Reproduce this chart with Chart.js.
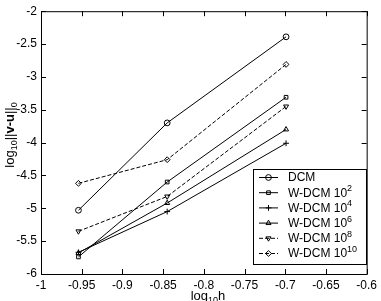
<!DOCTYPE html>
<html>
<head>
<meta charset="utf-8">
<script src="https://cdn.jsdelivr.net/npm/chart.js@4.4.0/dist/chart.umd.min.js"></script>
<style>
  html, body { margin: 0; padding: 0; background: #fff; }
  #wrap { width: 381px; height: 301px; }
</style>
</head>
<body>
<div id="wrap"><canvas id="errChart"></canvas></div>
<script>
  // log10 of the mesh size h = 1/9, 1/7, 1/5
  const logH = [-0.954, -0.845, -0.699];

  const dcm = [-5.03, -3.70, -2.39];
  const wdcm2 = [-5.74, -4.60, -3.31];
  const wdcm4 = [-5.67, -5.05, -4.01];
  const wdcm6 = [-5.68, -4.92, -3.80];
  const wdcm8 = [-5.35, -4.82, -3.45];
  const wdcm10 = [-4.62, -4.26, -2.81];

  const seriesNames = ['DCM', 'W-DCM 10', 'W-DCM 10', 'W-DCM 10', 'W-DCM 10', 'W-DCM 10'];
  const seriesPowers = ['', '2', '4', '6', '8', '10'];

  const xTicks = [-1, -0.95, -0.9, -0.85, -0.8, -0.75, -0.7, -0.65, -0.6];
  const yTicks = [-6, -5.5, -5, -4.5, -4, -3.5, -3, -2.5, -2];

  const FONT = 'Liberation Sans, Arial, sans-serif';

  const styles = [
    { point: 'circle', rot: 0, dash: [] },
    { point: 'rect', rot: 0, dash: [] },
    { point: 'cross', rot: 0, dash: [] },
    { point: 'triangle', rot: 0, dash: [] },
    { point: 'triangle', rot: 180, dash: [4, 2] },
    { point: 'rectRot', rot: 0, dash: [4, 2] },
  ];

  function mkSet(i, values) {
    const s = styles[i];
    return {
      label: seriesNames[i] + seriesPowers[i],
      data: values.map(function (v, k) { return { x: logH[k], y: v }; }),
      borderColor: '#000',
      borderWidth: 1,
      borderDash: s.dash,
      backgroundColor: 'rgba(0,0,0,0)',
      pointStyle: s.point,
      rotation: s.rot,
      pointRadius: s.point === 'rect' ? 2.6 : 2.9,
      pointBorderColor: '#000',
      pointBorderWidth: 1,
      pointBackgroundColor: 'rgba(0,0,0,0)',
      tension: 0,
    };
  }

  function drawMarker(ctx, style, rot, x, y, r) {
    ctx.save();
    ctx.setLineDash([]);
    ctx.fillStyle = 'rgba(0,0,0,0)';
    ctx.strokeStyle = '#000';
    Chart.helpers.drawPoint(ctx, { pointStyle: style, rotation: rot, radius: r, borderWidth: 1 }, x, y);
    ctx.restore();
  }

  // frame with inward ticks, axis titles and legend box
  const matlabAxes = {
    id: 'matlabAxes',
    afterDraw: function (chart) {
      const ctx = chart.ctx;
      const a = chart.chartArea;
      const xs = chart.scales.x;
      const ys = chart.scales.y;
      const tl = 5;
      ctx.save();
      ctx.strokeStyle = '#000';
      ctx.lineWidth = 1;
      ctx.setLineDash([]);
      ctx.strokeRect(a.left + 0.5, a.top + 0.5, a.right - a.left, a.bottom - a.top);
      ctx.beginPath();
      xTicks.forEach(function (t) {
        const px = Math.round(xs.getPixelForValue(t)) + 0.5;
        ctx.moveTo(px, a.bottom); ctx.lineTo(px, a.bottom - tl);
        ctx.moveTo(px, a.top); ctx.lineTo(px, a.top + tl);
      });
      yTicks.forEach(function (t) {
        const py = Math.round(ys.getPixelForValue(t)) + 0.5;
        ctx.moveTo(a.left, py); ctx.lineTo(a.left + tl, py);
        ctx.moveTo(a.right, py); ctx.lineTo(a.right - tl, py);
      });
      ctx.stroke();

      // x title: log10h
      ctx.fillStyle = '#000';
      ctx.textBaseline = 'alphabetic';
      ctx.textAlign = 'left';
      const big = '13px ' + FONT;
      const sub = '9px ' + FONT;
      ctx.font = big;
      const w1 = ctx.measureText('log').width;
      const w3 = ctx.measureText('h').width;
      ctx.font = sub;
      const w2 = ctx.measureText('10').width;
      let x0 = 208 - (w1 + w2 + w3) / 2;
      const by = 300;
      ctx.font = big; ctx.fillText('log', x0, by);
      ctx.font = sub; ctx.fillText('10', x0 + w1, by + 3);
      ctx.font = big; ctx.fillText('h', x0 + w1 + w2, by);

      // y title: log10||v-u||0
      ctx.save();
      ctx.translate(14, 135);
      ctx.rotate(-Math.PI / 2);
      const parts = [
        ['log', big, 0], ['10', sub, 3], ['||', big, 0],
        ['v-u', 'bold 13px ' + FONT, 0], ['||', big, 0], ['0', sub, 3],
      ];
      let total = 0;
      parts.forEach(function (p) { ctx.font = p[1]; total += ctx.measureText(p[0]).width; });
      let cx = -total / 2;
      parts.forEach(function (p) {
        ctx.font = p[1];
        ctx.fillText(p[0], cx, p[2]);
        cx += ctx.measureText(p[0]).width;
      });
      ctx.restore();

      // legend
      const lx = 253, ly = 169, lw = 113, lh = 95;
      const leg = '12px ' + FONT;
      ctx.fillStyle = '#fff';
      ctx.fillRect(lx, ly, lw, lh);
      ctx.strokeRect(lx + 0.5, ly + 0.5, lw, lh);
      chart.data.datasets.forEach(function (ds, i) {
        const yy = ly + 8.5 + i * 15.2;
        ctx.beginPath();
        ctx.setLineDash(ds.borderDash);
        ctx.moveTo(259, yy); ctx.lineTo(278, yy);
        ctx.stroke();
        drawMarker(ctx, ds.pointStyle, ds.rotation, 268.5, yy, ds.pointRadius);
        ctx.fillStyle = '#000';
        ctx.font = leg;
        ctx.textBaseline = 'middle';
        ctx.fillText(seriesNames[i], 288, yy + 0.5);
        if (seriesPowers[i]) {
          const tw = ctx.measureText(seriesNames[i]).width;
          ctx.font = sub;
          ctx.fillText(seriesPowers[i], 288 + tw, yy - 4);
        }
      });
      ctx.restore();
    },
  };

  new Chart(document.getElementById('errChart'), {
    type: 'line',
    data: {
      datasets: [
        mkSet(0, dcm), mkSet(1, wdcm2), mkSet(2, wdcm4),
        mkSet(3, wdcm6), mkSet(4, wdcm8), mkSet(5, wdcm10),
      ],
    },
    options: {
      responsive: true,
      maintainAspectRatio: false,
      animation: false,
      layout: { padding: { top: 8, right: 6, left: 0, bottom: 0 } },
      plugins: { legend: { display: false }, tooltip: { enabled: false } },
      scales: {
        x: {
          type: 'linear',
          min: -1, max: -0.6,
          afterBuildTicks: function (s) { s.ticks = xTicks.map(function (v) { return { value: v }; }); },
          afterFit: function (s) { s.height = 27; },
          grid: { display: false, drawTicks: false },
          border: { display: false },
          ticks: {
            padding: 4, color: '#000', maxRotation: 0, autoSkip: false,
            font: { family: FONT, size: 12 },
            callback: function (v) { return String(parseFloat(v.toFixed(2))); },
          },
        },
        y: {
          min: -6, max: -2,
          afterBuildTicks: function (s) { s.ticks = yTicks.map(function (v) { return { value: v }; }); },
          afterFit: function (s) { s.width = 41; },
          grid: { display: false, drawTicks: false },
          border: { display: false },
          ticks: {
            padding: 4, color: '#000',
            font: { family: FONT, size: 12 },
            callback: function (v) { return String(parseFloat(v.toFixed(2))); },
          },
        },
      },
    },
    plugins: [matlabAxes],
  });
</script>
</body>
</html>
